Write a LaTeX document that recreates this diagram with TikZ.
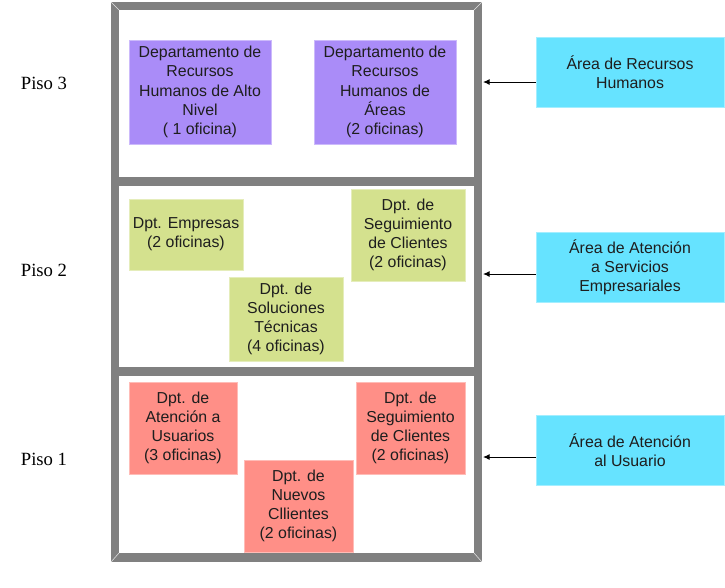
\documentclass[tikz,border=0pt]{standalone}
\usepackage{fontspec}
\setmainfont{Liberation Serif}
\newfontfamily\boxfont{Liberation Sans}
\usetikzlibrary{arrows.meta}
\definecolor{framegray}{RGB}{128,128,128}
\definecolor{purplebox}{RGB}{170,140,248}
\definecolor{greenbox}{RGB}{212,225,142}
\definecolor{redbox}{RGB}{255,143,135}
\definecolor{cyanbox}{RGB}{102,227,255}
\definecolor{txt}{RGB}{30,30,30}
\tikzset{
  wh/.style 2 args={minimum width=#1*0.75pt, minimum height=#2*0.75pt},
  dept/.style={inner sep=0pt, align=center, text=txt,
    font=\boxfont\fontsize{11.9}{14.4}\selectfont},
  hr/.style={dept, fill=purplebox, draw=purplebox!60!white, line width=0.5pt},
  gr/.style={dept, fill=greenbox, draw=greenbox!60!white, line width=0.5pt},
  rd/.style={dept, fill=redbox, draw=redbox!60!white, line width=0.5pt},
  area/.style={dept, fill=cyanbox, draw=cyanbox!60!white, line width=0.5pt},
  piso/.style={font=\fontsize{14}{16}\selectfont, text=black},
  link/.style={-{Latex[length=5pt,width=4.5pt]}, line width=0.75pt, black}
}
\begin{document}
\begin{tikzpicture}[x=0.75pt,y=-0.75pt]
\useasboundingbox (0,0) rectangle (725,587);
% building frame
\fill[framegray] (111,2) rectangle (482,562);
\fill[white] (119,10) rectangle (474,177);
\fill[white] (119,186) rectangle (474,367);
\fill[white] (119,376) rectangle (474,553);
\draw[white!80!framegray, line width=0.4pt] (111,2) -- (119,10) (482,2) -- (474,10)
  (111,562) -- (119,553) (482,562) -- (474,553);
% floor labels
\node[piso] (p3) at (44,83) {Piso 3};
\node[piso] (p2) at (44,270) {Piso 2};
\node[piso] (p1) at (44,459) {Piso 1};
% floor 3
\node[hr, wh={142}{104}] (hr1) at (200,92) {Departamento de\\Recursos\\Humanos de Alto\\Nivel\\( 1 oficina)};
\node[hr, wh={142}{104}] (hr2) at (385,92) {Departamento de\\Recursos\\Humanos de\\Áreas\\(2 oficinas)};
% floor 2
\node[gr, wh={114}{71}] (g1) at (186,234.5) {Dpt. Empresas\\(2 oficinas)};
\node[gr, wh={114}{84}] (g2) at (286,319) {Dpt. de\\Soluciones\\Técnicas\\(4 oficinas)};
\node[gr, wh={114}{92}] (g3) at (408,235) {Dpt. de\\Seguimiento\\de Clientes\\(2 oficinas)};
% floor 1
\node[rd, wh={108}{92}] (r1) at (183,428) {Dpt. de\\Atención a\\Usuarios\\(3 oficinas)};
\node[rd, wh={109}{92}] (r2) at (298.5,506) {Dpt. de\\Nuevos\\Cllientes\\(2 oficinas)};
\node[rd, wh={109}{92}] (r3) at (410.5,428) {Dpt. de\\Seguimiento\\de Clientes\\(2 oficinas)};
% areas
\node[area, wh={188}{70}] (a3) at (630,72) {Área de Recursos\\Humanos};
\node[area, wh={188}{70}] (a2) at (630,267) {Área de Atención\\a Servicios\\Empresariales};
\node[area, wh={188}{70}] (a1) at (630,450) {Área de Atención\\al Usuario};
% arrow targets on the frame
\coordinate (f3) at (483,82);
\coordinate (f2) at (483,274);
\coordinate (f1) at (483,457);
\draw[link] (a3.west |- f3) -- (f3);
\draw[link] (a2.west |- f2) -- (f2);
\draw[link] (a1.west |- f1) -- (f1);
\end{tikzpicture}
\end{document}
